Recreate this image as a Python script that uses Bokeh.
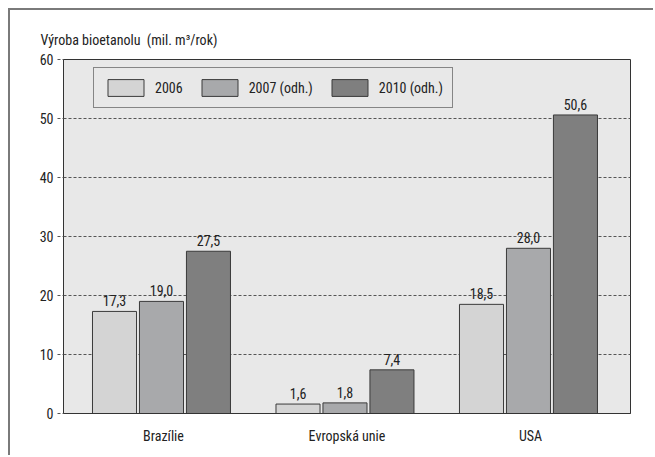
from bokeh.plotting import figure
from bokeh.models import ColumnDataSource, FactorRange, Legend, LegendItem, FixedTicker, Range1d
from bokeh.transform import dodge
from bokeh.embed import file_html
from bokeh.resources import INLINE
from bokeh.core.properties import value

regions = ["Brazílie", "Evropská unie", "USA"]
series_names = ["2006", "2007 (odh.)", "2010 (odh.)"]
v2006 = [17.3, 1.6, 18.5]
v2007 = [19.0, 1.8, 28.0]
v2010 = [27.5, 7.4, 50.6]
y_ticks = [0, 10, 20, 30, 40, 50, 60]

FONT = "Roboto Condensed, DejaVu Sans Condensed, Roboto, sans-serif"
FS = "14px"
colors = ["#d4d4d4", "#a8a9ab", "#7f7f7f"]
offsets = [-0.267, -0.011, 0.245]

def fmt(v):
    return f"{v:.1f}".replace(".", ",")

src = ColumnDataSource(dict(
    region=regions,
    v0=v2006, v1=v2007, v2=v2010,
    t0=[fmt(v) for v in v2006], t1=[fmt(v) for v in v2007], t2=[fmt(v) for v in v2010],
))

p = figure(width=645, height=447, x_range=FactorRange(*regions, range_padding=0.03),
           y_range=Range1d(0, 60), output_backend="svg", toolbar_location=None,
           min_border_left=53, min_border_right=25, min_border_top=49, min_border_bottom=44)
p.styles = {"margin-left": "8px", "margin-top": "8px",
            "border-left": "2px solid #7a7a7a", "border-top": "2px solid #7a7a7a"}

p.title.text = "Výroba bioetanolu\u00a0 (mil. m³/rok)"
p.title.align = "left"
p.title.offset = -23
p.title.text_font = FONT
p.title.text_font_size = FS
p.title.text_font_style = "normal"
p.title.text_color = "#222222"
p.title.standoff = 24

p.background_fill_color = "#e8e8e8"
p.border_fill_color = "white"
p.outline_line_color = "#333333"
p.outline_line_width = 1

p.xgrid.visible = False
p.ygrid.grid_line_color = "#555555"
p.ygrid.grid_line_dash = "3 2"
p.ygrid.grid_line_width = 1

p.yaxis.ticker = FixedTicker(ticks=y_ticks)
p.yaxis.major_tick_out = 6
p.yaxis.major_tick_in = 0
p.yaxis.minor_tick_line_color = None
p.yaxis.major_tick_line_color = "#555555"
p.yaxis.major_tick_line_dash = "3 2"
p.yaxis.axis_line_color = "#333333"
p.yaxis.major_label_text_font = FONT
p.yaxis.major_label_text_font_size = FS
p.yaxis.major_label_text_color = "#222222"
p.yaxis.major_label_standoff = 4

p.xaxis.major_tick_line_color = None
p.xaxis.minor_tick_line_color = None
p.xaxis.axis_line_color = "#333333"
p.xaxis.major_label_text_font = FONT
p.xaxis.major_label_text_font_size = FS
p.xaxis.major_label_text_color = "#222222"
p.xaxis.major_label_standoff = 8

items = []
for i in range(3):
    r = p.vbar(x=dodge("region", offsets[i], range=p.x_range), top=f"v{i}", width=0.24,
               source=src, fill_color=colors[i], line_color="#3a3a3a", line_width=1)
    p.text(x=dodge("region", offsets[i], range=p.x_range), y=f"v{i}", text=f"t{i}", source=src,
           text_align="center", text_baseline="bottom", y_offset=-5,
           text_font=value(FONT), text_font_size=FS, text_color="#222222")
    items.append(LegendItem(label=series_names[i], renderers=[r]))

legend = Legend(items=items, orientation="horizontal", location=(30, 305),
                glyph_width=45, glyph_height=21, label_standoff=7, spacing=14,
                padding=9, margin=0, border_line_color="#222222", border_line_width=1,
                background_fill_alpha=0, label_text_font=FONT, label_text_font_size=FS,
                label_text_color="#222222")
p.add_layout(legend)

open("out.html", "w").write(file_html(p, INLINE))
